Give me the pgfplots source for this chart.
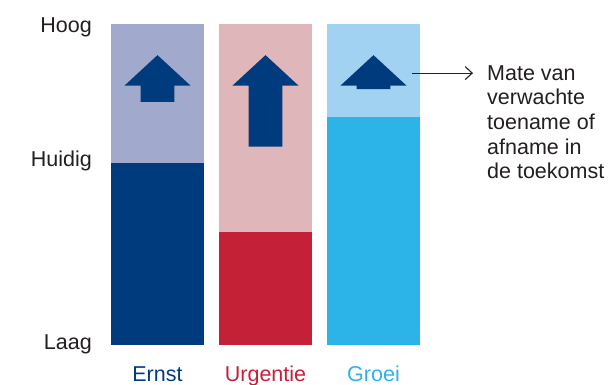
\documentclass[border=0pt]{standalone}
\usepackage{pgfplots}
\pgfplotsset{compat=1.18}
\usepackage{fontspec}
\setmainfont{Liberation Sans}
\usetikzlibrary{arrows.meta}
\definecolor{dblue}{HTML}{003C7D}
\definecolor{lblue}{HTML}{A1AACD}
\definecolor{dred}{HTML}{C42038}
\definecolor{lred}{HTML}{DFB6BA}
\definecolor{dcyan}{HTML}{2CB4E8}
\definecolor{lcyan}{HTML}{A2D2F1}
\definecolor{txt}{HTML}{231F20}
\begin{document}
\begin{tikzpicture}
\useasboundingbox (0,0) rectangle (611pt,385pt);
\begin{axis}[
  at={(111pt,40pt)}, anchor=south west,
  scale only axis, width=309pt, height=321pt,
  xmin=-0.43056, xmax=2.43056, ymin=0, ymax=10,
  enlargelimits=false, clip=false,
  axis line style={draw=none}, tick style={draw=none},
  major tick length=0pt,
  xtick={0,1,2},
  xticklabels={\textcolor{dblue}{Ernst},\textcolor{dred}{Urgentie},\textcolor{dcyan}{Groei}},
  xticklabel style={anchor=base, inner sep=0pt, yshift=-36.7pt},
  ytick={0.11,5.81,10},
  yticklabels={Laag,Huidig,Hoog},
  yticklabel style={anchor=base east, inner sep=0pt, xshift=-19pt, yshift=-8.5pt, text=txt},
  ticklabel style={font=\fontsize{21.5}{24.5}\selectfont},
]
% background (light) bars
\addplot[ybar, bar shift=0pt, bar width=93pt, fill=lblue, draw=none] coordinates {(0,10)};
\addplot[ybar, bar shift=0pt, bar width=93pt, fill=lred, draw=none] coordinates {(1,10)};
\addplot[ybar, bar shift=0pt, bar width=93pt, fill=lcyan, draw=none] coordinates {(2,10)};
% current level bars
\addplot[ybar, bar shift=0pt, bar width=93pt, fill=dblue, draw=none] coordinates {(0,5.67)};
\addplot[ybar, bar shift=0pt, bar width=93pt, fill=dred, draw=none] coordinates {(1,3.52)};
\addplot[ybar, bar shift=0pt, bar width=93pt, fill=dcyan, draw=none] coordinates {(2,7.10)};
% arrows of expected change
\addplot[fill=dblue, draw=none] coordinates {(-0.157,7.57) (-0.157,8.08) (-0.306,8.08) (0,9.03) (0.306,8.08) (0.157,8.08) (0.157,7.57)} -- cycle;
\addplot[fill=dblue, draw=none] coordinates {(0.843,6.18) (0.843,8.08) (0.694,8.08) (1,9.03) (1.306,8.08) (1.157,8.08) (1.157,6.18)} -- cycle;
\addplot[fill=dblue, draw=none] coordinates {(1.843,7.97) (1.843,8.08) (1.694,8.08) (2,9.03) (2.306,8.08) (2.157,8.08) (2.157,7.97)} -- cycle;
% annotation
\draw[txt, line width=1.1pt, -{Straight Barb[length=7pt,width=13pt]}] (axis cs:2.356,8.47) -- (axis cs:2.921,8.47);
\end{axis}
\node[anchor=north west, inner sep=0pt, align=left, text=txt,
  font=\fontsize{21.5}{24.6}\selectfont] at (487pt,319.7pt)
  {Mate van\\verwachte\\toename of\\afname in\\de toekomst};
\end{tikzpicture}
\end{document}
